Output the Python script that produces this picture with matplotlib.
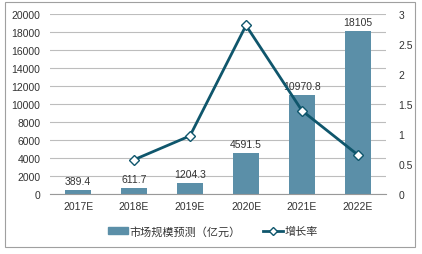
import matplotlib
matplotlib.use("Agg")
import matplotlib.pyplot as plt
from matplotlib.patches import Rectangle
from matplotlib.lines import Line2D

plt.rcParams['font.family'] = ['Liberation Sans', 'Noto Sans CJK SC', 'DejaVu Sans']

years = ["2017E", "2018E", "2019E", "2020E", "2021E", "2022E"]
market = [389.4, 611.7, 1204.3, 4591.5, 10970.8, 18105]
growth_years = ["2018E", "2019E", "2020E", "2021E", "2022E"]
growth = [0.571, 0.969, 2.81, 1.389, 0.650]
bar_labels = ["389.4", "611.7", "1204.3", "4591.5", "10970.8", "18105"]

bar_color = "#5b8fa8"
line_color = "#0f566c"
txt = "#333333"
fs = 7.5

fig = plt.figure(figsize=(4.22, 2.55), dpi=100)
fig.patches.append(Rectangle((5/422, 1-248/255), 410/422, 245/255, transform=fig.transFigure,
                             fill=False, edgecolor="#a0a0a0", linewidth=0.8))
ax = fig.add_axes([50/422, 1-195/255, 336/422, 180/255])
x = list(range(len(years)))
ax.bar(x, market, width=0.48, color=bar_color, zorder=2)
for xi, v, lab in zip(x, market, bar_labels):
    ax.annotate(lab, (xi, v), xytext=(0, 3), textcoords="offset points",
                ha="center", va="bottom", fontsize=fs, color=txt, zorder=3)
ax.set_ylim(0, 20000)
ax.set_yticks(range(0, 20001, 2000))
ax.set_xlim(-0.5, 5.5)
ax.set_xticks(x)
ax.set_xticklabels(years)
ax.grid(axis="y", color="#bdbdbd", linewidth=0.8, zorder=0)
ax.set_axisbelow(True)
for s in ["top", "left", "right"]:
    ax.spines[s].set_visible(False)
ax.spines["bottom"].set_color("#999999")
ax.tick_params(axis="both", length=0, labelsize=fs, colors=txt)
ax.tick_params(axis="x", pad=5)
ax.tick_params(axis="y", pad=7)

ax2 = ax.twinx()
gx = [years.index(y) for y in growth_years]
ax2.plot(gx, growth, color=line_color, linewidth=2, marker="D", markersize=5,
         markerfacecolor="white", markeredgecolor=line_color, markeredgewidth=1, zorder=4)
ax2.set_ylim(0, 3)
ax2.set_yticks([0, 0.5, 1, 1.5, 2, 2.5, 3])
ax2.set_yticklabels(["0", "0.5", "1", "1.5", "2", "2.5", "3"])
for s in ["top", "left", "right", "bottom"]:
    ax2.spines[s].set_visible(False)
ax2.tick_params(axis="y", length=0, labelsize=fs, colors=txt, pad=9)

handles = [Rectangle((0, 0), 1, 1, color=bar_color),
           Line2D([0], [0], color=line_color, linewidth=2, marker="D", markersize=4,
                  markerfacecolor="white", markeredgecolor=line_color)]
fig.legend(handles, ["市场规模预测（亿元）", "增长率"], loc="center",
           bbox_to_anchor=(213/422, 1-232/255), ncol=2, frameon=False, fontsize=8,
           handlelength=1.8, handleheight=0.6, columnspacing=2.0, handletextpad=0.15,
           labelcolor=txt)

fig.savefig("out.png", dpi=100)
